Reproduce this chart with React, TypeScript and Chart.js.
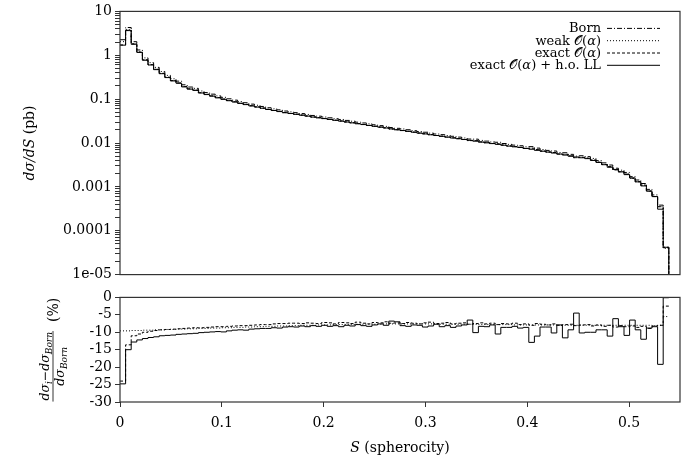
import React, { useEffect, useRef } from 'react';
import { Chart, registerables } from 'chart.js';

Chart.register(...registerables);

const FONT = '"DejaVu Serif", "Liberation Serif", serif';

// ---------- data ----------
const binWidth = 0.0055;
const xTickValues = [0, 0.1, 0.2, 0.3, 0.4, 0.5];
const topMajorTicks = [0.00001, 0.0001, 0.001, 0.01, 0.1, 1, 10];
const topTickLabels = ['1e-05', '0.0001', '0.001', '0.01', '0.1', '1', '10'];
const ratioTickValues = [-30, -25, -20, -15, -10, -5, 0];

// d sigma / dS for the "exact O(alpha) + h.o. LL" curve (pb), one value per bin
const spectrumHoLL = [
  1.7, 3.65, 1.78, 1.16, 0.77, 0.60, 0.47, 0.38, 0.31, 0.26,
  0.23, 0.19, 0.169, 0.158, 0.138, 0.127, 0.117, 0.107, 0.099, 0.092,
  0.086, 0.080, 0.075, 0.070, 0.066, 0.062, 0.058, 0.055, 0.052, 0.049,
  0.047, 0.045, 0.043, 0.041, 0.039, 0.0375, 0.0360, 0.0344, 0.0329, 0.0315,
  0.0301, 0.0288, 0.0275, 0.0263, 0.0251, 0.0240, 0.0230, 0.0220, 0.0210, 0.0201,
  0.0192, 0.0184, 0.0176, 0.0168, 0.0161, 0.0154, 0.0148, 0.0142, 0.0136, 0.0130,
  0.0125, 0.0120, 0.0115, 0.0110, 0.0105, 0.0101, 0.0097, 0.0093, 0.0089, 0.0085,
  0.0082, 0.0079, 0.0075, 0.0072, 0.0068, 0.0065, 0.0062, 0.0059, 0.0056, 0.0053,
  0.0050, 0.0048, 0.0046, 0.0044, 0.0040, 0.0036, 0.0032, 0.0028, 0.0025, 0.0022,
  0.0019, 0.0016, 0.0013, 0.00105, 0.00080, 0.00060, 0.00031, 0.000042,
];

// relative corrections (%) w.r.t. Born
const ratioWeak = [
  -9.6, -9.6, -9.5, -9.5, -9.4, -9.4, -9.3, -9.3, -9.2, -9.2,
  -9.1, -9.1, -9.0, -9.0, -8.9, -8.9, -8.8, -8.8, -8.7, -8.7,
  -8.6, -8.6, -8.5, -8.5, -8.4, -8.4, -8.3, -8.3, -8.2, -8.2,
  -8.1, -8.1, -8.0, -8.0, -8.0, -7.9, -7.9, -7.9, -7.8, -7.8,
  -7.8, -7.8, -7.7, -7.7, -7.7, -7.7, -7.7, -7.6, -7.6, -7.6,
  -7.6, -7.6, -7.6, -7.6, -7.6, -7.6, -7.6, -7.7, -7.7, -7.7,
  -7.7, -7.7, -7.7, -7.7, -7.8, -7.8, -7.8, -7.8, -7.8, -7.8,
  -7.9, -7.9, -7.9, -7.9, -7.9, -7.9, -7.9, -7.9, -8.0, -8.0,
  -8.0, -8.0, -8.0, -8.0, -8.0, -8.0, -8.0, -8.0, -8.0, -8.0,
  -8.0, -8.0, -8.0, -8.0, -8.0, -8.1, -8.0, -5.5,
];

const ratioExact = [
  -24.0, -13.6, -11.0, -10.5, -10.0, -9.7, -9.5, -9.3, -9.2, -9.1,
  -9.0, -8.9, -8.8, -8.7, -8.7, -8.6, -8.5, -8.4, -8.4, -8.3,
  -8.2, -8.1, -8.1, -8.0, -7.9, -7.8, -7.8, -7.6, -7.5, -7.5,
  -7.4, -7.4, -7.5, -7.3, -7.4, -7.5, -7.2, -7.3, -7.6, -7.2,
  -7.3, -7.5, -7.1, -7.4, -7.6, -7.2, -7.3, -7.0, -7.4, -7.3,
  -7.5, -7.2, -7.4, -7.6, -7.3, -7.1, -7.5, -7.4, -7.2, -7.6,
  -7.4, -7.3, -7.7, -7.5, -7.3, -7.6, -7.4, -7.8, -7.5, -7.6,
  -7.4, -7.8, -7.6, -8.0, -7.5, -7.7, -7.9, -7.6, -8.0, -7.8,
  -7.7, -8.1, -7.9, -7.8, -8.2, -7.9, -8.3, -8.0, -8.5, -8.1,
  -8.4, -8.2, -8.6, -8.3, -8.9, -8.2, -8.0, -2.5,
];

const ratioHoLL = [
  -24.8, -15.0, -12.8, -12.2, -11.8, -11.5, -11.3, -11.0, -10.9, -10.8,
  -10.6, -10.5, -10.4, -10.3, -10.1, -10.0, -9.9, -9.8, -9.9, -9.6,
  -9.4, -9.3, -9.4, -9.1, -9.0, -8.9, -8.9, -8.7, -8.8, -8.5,
  -8.4, -8.5, -8.2, -8.4, -8.1, -8.3, -8.0, -8.3, -8.1, -8.4,
  -8.0, -8.2, -7.8, -8.1, -8.3, -7.9, -7.6, -8.0, -6.8, -7.0,
  -8.1, -8.3, -7.9, -8.0, -8.5, -8.2, -7.7, -8.4, -8.1, -8.6,
  -8.2, -7.9, -6.5, -10.1, -8.3, -8.4, -7.9, -10.5, -8.6, -8.6,
  -8.3, -8.8, -8.6, -12.9, -11.1, -8.5, -8.5, -10.2, -7.9, -11.6,
  -9.3, -4.5, -10.2, -10.0, -10.0, -9.3, -9.3, -11.1, -6.1, -8.4,
  -10.9, -6.5, -9.3, -12.0, -8.8, -8.4, -19.2, -0.1,
];

const seriesNames = ['Born', 'weak ', 'exact ', 'exact '];

// ---------- helpers ----------
type Seg = { t: string; italic?: boolean; size?: number; dy?: number };

function segFont(s: Seg, base: number) {
  return `${s.italic ? 'italic ' : ''}${s.size ?? base}px ${FONT}`;
}

function richWidth(ctx: CanvasRenderingContext2D, segs: Seg[], base: number) {
  let w = 0;
  for (const s of segs) {
    ctx.font = segFont(s, base);
    w += ctx.measureText(s.t).width;
  }
  return w;
}

function drawRich(
  ctx: CanvasRenderingContext2D,
  segs: Seg[],
  x: number,
  y: number,
  base: number,
  align: 'left' | 'center' | 'right'
) {
  const total = richWidth(ctx, segs, base);
  let cx = align === 'right' ? x - total : align === 'center' ? x - total / 2 : x;
  ctx.textAlign = 'left';
  ctx.textBaseline = 'alphabetic';
  for (const s of segs) {
    ctx.font = segFont(s, base);
    ctx.fillText(s.t, cx, y + (s.dy ?? 0));
    cx += ctx.measureText(s.t).width;
  }
  return total;
}

function steps(values: number[], tail?: number) {
  const pts = values.map((v, i) => ({ x: i * binWidth, y: v }));
  pts.push({ x: values.length * binWidth, y: values[values.length - 1] });
  if (tail !== undefined) pts.push({ x: values.length * binWidth, y: tail });
  return pts;
}

const O_ALPHA: Seg[] = [{ t: '𝒪' }, { t: '(' }, { t: 'α', italic: true }, { t: ')' }];

const legendEntries: { segs: Seg[]; dash: number[] }[] = [
  { segs: [{ t: seriesNames[0] }], dash: [5, 2, 1, 2] },
  { segs: [{ t: seriesNames[1] }, ...O_ALPHA], dash: [1, 2] },
  { segs: [{ t: seriesNames[2] }, ...O_ALPHA], dash: [3, 2] },
  { segs: [{ t: seriesNames[3] }, ...O_ALPHA, { t: ' + h.o. LL' }], dash: [] },
];

const LEFT = 120;
const AXIS_COLOR = '#333';

export default function App() {
  const topRef = useRef<HTMLCanvasElement>(null);
  const botRef = useRef<HTMLCanvasElement>(null);

  useEffect(() => {
    const born = spectrumHoLL.map((v, i) => v / (1 + ratioHoLL[i] / 100));
    const weak = born.map((v, i) => v * (1 + ratioWeak[i] / 100));
    const exact = born.map((v, i) => v * (1 + ratioExact[i] / 100));

    const topTicks: number[] = [];
    for (let i = 0; i < topMajorTicks.length; i++) {
      topTicks.push(topMajorTicks[i]);
      if (i < topMajorTicks.length - 1) {
        for (let m = 2; m <= 9; m++) topTicks.push(topMajorTicks[i] * m);
      }
    }

    const lineDs = (label: string, data: any[], dash: number[]) => ({
      label,
      data,
      borderColor: '#000',
      borderWidth: 1,
      borderDash: dash,
      pointRadius: 0,
      stepped: 'before' as const,
      fill: false,
    });

    const topDecor = {
      id: 'topDecor',
      afterDatasetsDraw(chart: any) {
        const { ctx, chartArea: a } = chart;
        ctx.save();
        ctx.strokeStyle = AXIS_COLOR;
        ctx.lineWidth = 1.2;
        ctx.setLineDash([]);
        ctx.strokeRect(a.left, a.top, a.right - a.left, a.bottom - a.top);
        // legend
        ctx.fillStyle = '#000';
        legendEntries.forEach((e, i) => {
          const y = a.top + 21 + i * 12.3;
          drawRich(ctx, e.segs, 601, y, 13, 'right');
          ctx.beginPath();
          ctx.setLineDash(e.dash);
          ctx.strokeStyle = '#000';
          ctx.lineWidth = 1;
          ctx.moveTo(607, y - 4);
          ctx.lineTo(660, y - 4);
          ctx.stroke();
        });
        ctx.setLineDash([]);
        // y title
        ctx.translate(29, (a.top + a.bottom) / 2);
        ctx.rotate(-Math.PI / 2);
        drawRich(
          ctx,
          [{ t: 'dσ/dS', italic: true }, { t: ' (pb)' }],
          0,
          5,
          14,
          'center'
        );
        ctx.restore();
      },
    };

    const botDecor = {
      id: 'botDecor',
      afterDatasetsDraw(chart: any) {
        const { ctx, chartArea: a } = chart;
        ctx.save();
        ctx.strokeStyle = AXIS_COLOR;
        ctx.lineWidth = 1.2;
        ctx.strokeRect(a.left, a.top, a.right - a.left, a.bottom - a.top);
        ctx.fillStyle = '#000';
        // x title
        drawRich(
          ctx,
          [{ t: 'S', italic: true }, { t: ' (spherocity)' }],
          (a.left + a.right) / 2,
          a.bottom + 50,
          14,
          'center'
        );
        // y title: fraction
        const M = 12.5;
        const SUB = 9;
        const num: Seg[] = [
          { t: 'dσ', italic: true, size: M },
          { t: 'i', italic: true, size: SUB, dy: 2.5 },
          { t: '−', size: M },
          { t: 'dσ', italic: true, size: M },
          { t: 'Born', italic: true, size: SUB, dy: 2.5 },
        ];
        const den: Seg[] = [
          { t: 'dσ', italic: true, size: M },
          { t: 'Born', italic: true, size: SUB, dy: 2.5 },
        ];
        const pct: Seg[] = [{ t: '(%)', size: 14 }];
        const numW = richWidth(ctx, num, M);
        const denW = richWidth(ctx, den, M);
        const pctW = richWidth(ctx, pct, 14);
        const fracW = Math.max(numW, denW) + 2;
        const gap = 9;
        const total = fracW + gap + pctW;
        ctx.translate(53, (a.top + a.bottom) / 2);
        ctx.rotate(-Math.PI / 2);
        const fx = -total / 2 + fracW / 2;
        drawRich(ctx, num, fx, -4, M, 'center');
        drawRich(ctx, den, fx, 11, M, 'center');
        ctx.beginPath();
        ctx.lineWidth = 0.8;
        ctx.strokeStyle = '#000';
        ctx.moveTo(fx - fracW / 2, 0);
        ctx.lineTo(fx + fracW / 2, 0);
        ctx.stroke();
        drawRich(ctx, pct, -total / 2 + fracW + gap, 5, 14, 'left');
        ctx.restore();
      },
    };

    const tickFont = { family: FONT, size: 14 };

    const top = new Chart(topRef.current!, {
      type: 'line',
      data: {
        datasets: [
          lineDs('exact O(α) + h.o. LL', steps(spectrumHoLL, 1e-8), []),
          lineDs('exact O(α)', steps(exact, 1e-8), [3, 2]),
          lineDs('weak O(α)', steps(weak, 1e-8), [1, 2]),
          lineDs('Born', steps(born, 1e-8), [5, 2, 1, 2]),
        ],
      },
      options: {
        responsive: false,
        animation: false,
        devicePixelRatio: 1,
        layout: { padding: { left: 0, right: 1, top: 5, bottom: 7 } },
        plugins: { legend: { display: false }, tooltip: { enabled: false } },
        scales: {
          x: { type: 'linear', min: 0, max: 0.55, display: false },
          y: {
            type: 'logarithmic',
            min: 1e-5,
            max: 10,
            afterFit: (s: any) => {
              s.width = LEFT;
            },
            afterBuildTicks: (s: any) => {
              s.ticks = topTicks.map((v) => ({ value: v }));
            },
            ticks: {
              autoSkip: false,
              font: tickFont,
              color: '#000',
              padding: 3,
              callback: (v: any) => {
                const idx = topMajorTicks.findIndex((m) => Math.abs(m - v) / m < 1e-6);
                return idx >= 0 ? topTickLabels[idx] : '';
              },
            },
            grid: { drawOnChartArea: false, tickLength: 5, color: AXIS_COLOR },
            border: { display: false },
          },
        },
      },
      plugins: [topDecor],
    } as any);

    const bot = new Chart(botRef.current!, {
      type: 'line',
      data: {
        datasets: [
          lineDs('exact O(α) + h.o. LL', steps(ratioHoLL), []),
          lineDs('exact O(α)', steps(ratioExact), [3, 2]),
          lineDs('weak O(α)', steps(ratioWeak), [1, 2]),
        ],
      },
      options: {
        responsive: false,
        animation: false,
        devicePixelRatio: 1,
        layout: { padding: { left: 0, right: 1, top: 7, bottom: 0 } },
        plugins: { legend: { display: false }, tooltip: { enabled: false } },
        scales: {
          x: {
            type: 'linear',
            min: 0,
            max: 0.55,
            afterFit: (s: any) => {
              s.height = 56;
            },
            afterBuildTicks: (s: any) => {
              s.ticks = xTickValues.map((v) => ({ value: v }));
            },
            ticks: {
              autoSkip: false,
              font: tickFont,
              color: '#000',
              padding: 8,
              maxRotation: 0,
              callback: (v: any) => String(v),
            },
            grid: { drawOnChartArea: false, tickLength: 5, color: AXIS_COLOR },
            border: { display: false },
          },
          y: {
            type: 'linear',
            min: -30,
            max: 0,
            afterFit: (s: any) => {
              s.width = LEFT;
            },
            afterBuildTicks: (s: any) => {
              s.ticks = ratioTickValues.map((v) => ({ value: v }));
            },
            ticks: {
              autoSkip: false,
              font: tickFont,
              color: '#000',
              padding: 3,
              callback: (v: any) => String(v),
            },
            grid: { drawOnChartArea: false, tickLength: 5, color: AXIS_COLOR },
            border: { display: false },
          },
        },
      },
      plugins: [botDecor],
    } as any);

    return () => {
      top.destroy();
      bot.destroy();
    };
  }, []);

  return (
    <div
      style={{
        position: 'fixed',
        left: 0,
        top: 0,
        width: 681,
        height: 458,
        background: '#fff',
      }}
    >
      <canvas
        ref={topRef}
        width={681}
        height={286}
        style={{ position: 'absolute', left: 0, top: 0, width: 681, height: 286 }}
      />
      <canvas
        ref={botRef}
        width={681}
        height={172}
        style={{ position: 'absolute', left: 0, top: 286, width: 681, height: 172 }}
      />
    </div>
  );
}
